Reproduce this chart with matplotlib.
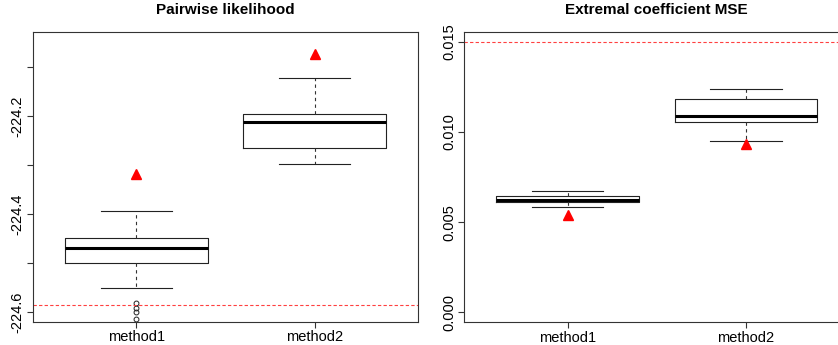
import numpy as np
import matplotlib.pyplot as plt

plt.rcParams['font.family'] = ['Liberation Sans', 'DejaVu Sans']

methods = ['method1', 'method2']

# Pairwise likelihood: box statistics per method
pl_whislo = [-224.550, -224.299]
pl_q1 = [-224.499, -224.265]
pl_med = [-224.470, -224.213]
pl_q3 = [-224.449, -224.197]
pl_whishi = [-224.394, -224.123]
pl_fliers = [[-224.582, -224.592, -224.600, -224.614], []]
pl_marker = [-224.318, -224.073]
pl_ref = -224.585

# Extremal coefficient MSE
ec_whislo = [0.005854, 0.009479]
ec_q1 = [0.006114, 0.010532]
ec_med = [0.006225, 0.010898]
ec_q3 = [0.006430, 0.011840]
ec_whishi = [0.006741, 0.012378]
ec_marker = [0.005377, 0.009313]
ec_ref = 0.014967


def make_stats(lo, q1, med, q3, hi, fl=None):
    out = []
    for i in range(len(lo)):
        out.append(dict(whislo=lo[i], q1=q1[i], med=med[i], q3=q3[i], whishi=hi[i],
                        fliers=fl[i] if fl else []))
    return out


def draw(ax, stats, marker, ref, title):
    ax.bxp(stats, positions=[1, 2], widths=0.8, showfliers=True,
           boxprops=dict(color='#222222', lw=0.8),
           medianprops=dict(color='black', lw=2.2),
           whiskerprops=dict(color='#333333', lw=0.8, linestyle=(0, (3, 3))),
           capprops=dict(color='#222222', lw=0.8), capwidths=0.4,
           flierprops=dict(marker='o', markersize=3.5, markerfacecolor='none',
                           markeredgecolor='#222222', markeredgewidth=0.7))
    ax.plot([1, 2], marker, linestyle='none', marker='^', color='red', markersize=6.5)
    ax.axhline(ref, color='#ff4040', lw=0.8, linestyle=(0, (3, 2)))
    ax.set_xlim(0.42, 2.58)
    ax.set_xticks([1, 2])
    ax.set_xticklabels(methods, fontsize=10.5)
    ax.set_title(title, fontsize=11, fontweight='bold', pad=13)
    ax.tick_params(axis='both', length=4, width=0.8, pad=2, labelsize=10.5,
                   color='#333333')
    for s in ax.spines.values():
        s.set_linewidth(0.8)
        s.set_color('#333333')


fig = plt.figure(figsize=(8.38, 3.45), dpi=100)

ax1 = fig.add_axes([0.0394, 0.0667, 0.4594, 0.8405])
draw(ax1, make_stats(pl_whislo, pl_q1, pl_med, pl_q3, pl_whishi, pl_fliers),
     pl_marker, pl_ref, 'Pairwise likelihood')
ax1.set_ylim(-224.620, -224.029)
yt = [-224.6, -224.5, -224.4, -224.3, -224.2, -224.1]
ax1.set_yticks(yt)
ax1.set_yticklabels(['-224.6', '', '-224.4', '', '-224.2', ''], rotation=90, va='center')

ax2 = fig.add_axes([0.554, 0.0657, 0.4594, 0.8425])
draw(ax2, make_stats(ec_whislo, ec_q1, ec_med, ec_q3, ec_whishi),
     ec_marker, ec_ref, 'Extremal coefficient MSE')
ax2.set_ylim(-0.000554, 0.01555)
ax2.set_yticks([0.0, 0.005, 0.010, 0.015])
ax2.set_yticklabels(['0.000', '0.005', '0.010', '0.015'], rotation=90, va='center')

fig.savefig('out.png', dpi=100)
